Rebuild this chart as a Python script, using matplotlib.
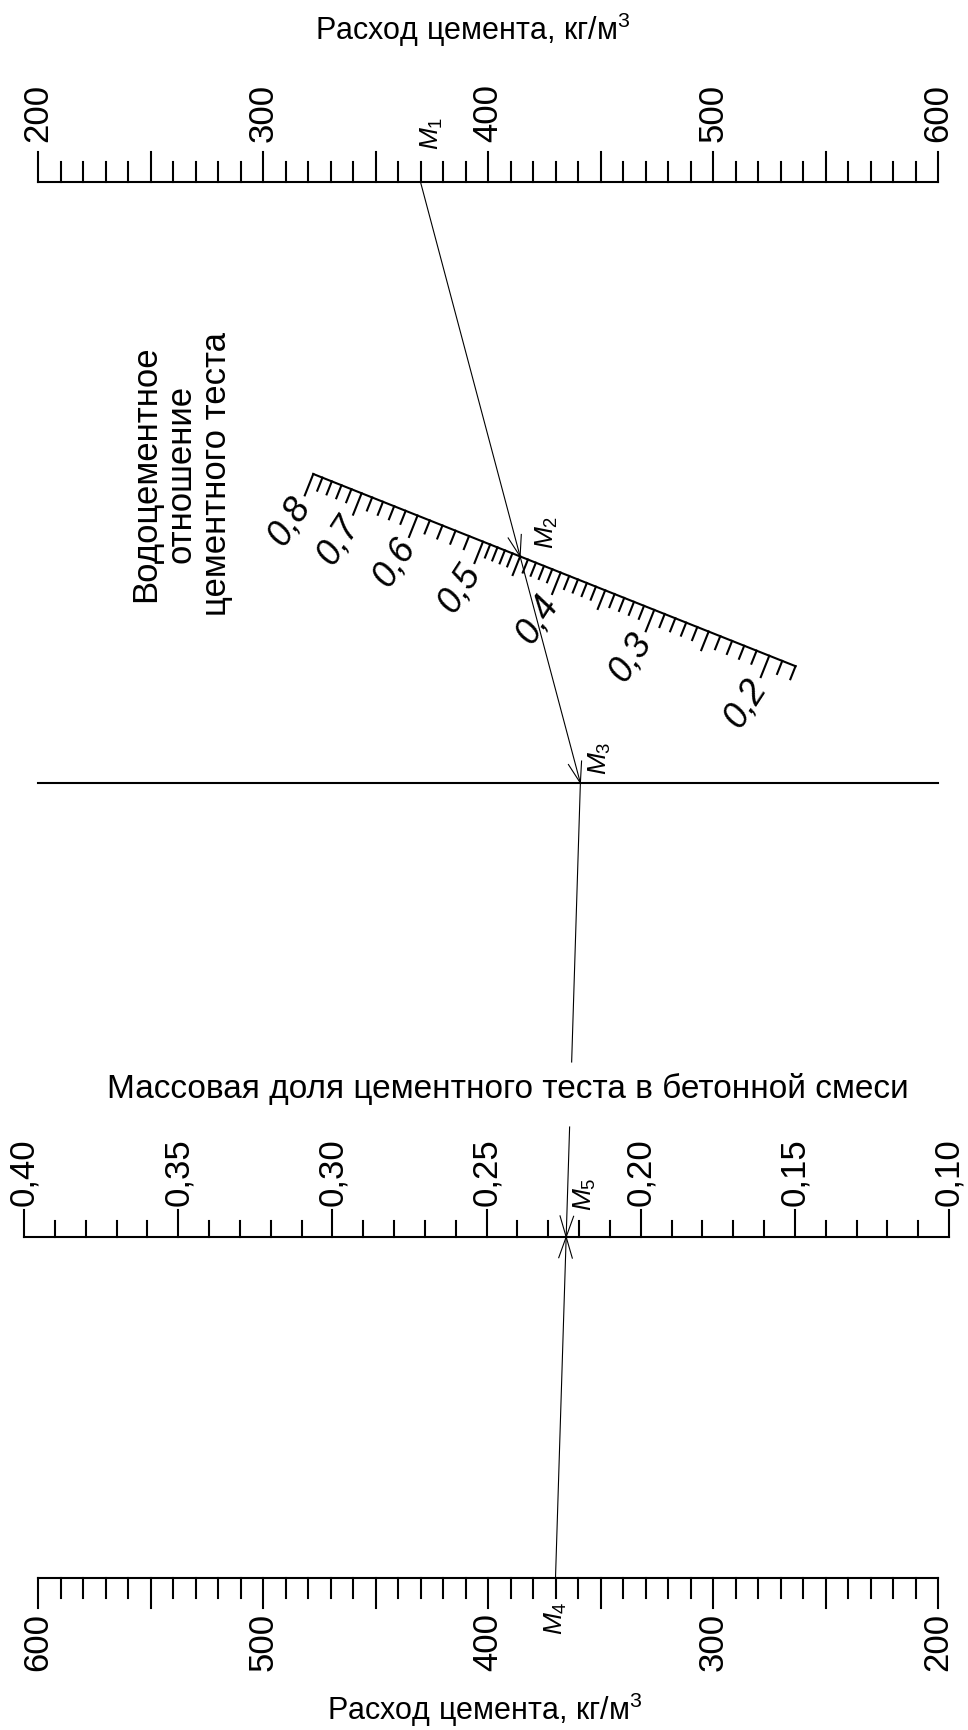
import numpy as np
import matplotlib.pyplot as plt

plt.rcParams['font.family'] = ['Liberation Sans', 'DejaVu Sans']
plt.rcParams['mathtext.fontset'] = 'custom'
plt.rcParams['mathtext.rm'] = 'Liberation Sans'
plt.rcParams['mathtext.it'] = 'Liberation Sans:italic'

# --- scale values -------------------------------------------------------
cement_labels = [200, 300, 400, 500, 600]          # kg/m3
cement_ticks = np.arange(200, 601, 10)

wc_labels = [0.8, 0.7, 0.6, 0.5, 0.4, 0.3, 0.2]    # water/cement of paste
wc_ticks_coarse = np.round(np.arange(0.50, 0.801, 0.02), 2)
wc_ticks_fine = np.round(np.arange(0.18, 0.50, 0.01), 2)

frac_labels = [0.40, 0.35, 0.30, 0.25, 0.20, 0.15, 0.10]   # paste mass fraction
frac_ticks = np.round(np.arange(0.10, 0.401, 0.01), 2)

# worked example (key)
m1_cement = 370
m2_wc = 0.45
m4_cement = 370

# --- layout (canvas in pixels, y downwards) ------------------------------
W, H = 968, 1731
TOP_Y, BOT_Y, MID_Y, FRAC_Y = 183, 1579, 784, 1238
C_LEFT, C_RIGHT = 38, 938
F_LEFT, F_RIGHT = 24, 949
WC_ORIGIN = np.array([313.3, 475.0])
WC_ANG = np.deg2rad(21.73)
WC_DIR = np.array([np.cos(WC_ANG), np.sin(WC_ANG)])
WC_NRM = np.array([-np.sin(WC_ANG), np.cos(WC_ANG)])
WC_C, WC_K = 0.6735, 1053.0

LW = 1.5
THIN = 0.8
NUM_FS = 25
WC_FS = 26
TITLE_FS = 22
M_FS = 19


def top_x(v):
    return C_LEFT + (v - 200) / 400 * (C_RIGHT - C_LEFT)


def bot_x(v):
    return C_LEFT + (600 - v) / 400 * (C_RIGHT - C_LEFT)


def frac_x(v):
    return F_LEFT + (0.40 - v) / 0.30 * (F_RIGHT - F_LEFT)


def wc_pos(w):
    s = WC_K * (1 / (w + WC_C) - 1 / (0.8 + WC_C))
    return WC_ORIGIN + s * WC_DIR


def fmt(v, nd):
    return f"{v:.{nd}f}".replace('.', ',')


def arrow_head(ax, tip, tail, length=22, half=18):
    d = np.asarray(tail, float) - np.asarray(tip, float)
    d /= np.hypot(*d)
    for a in (np.deg2rad(half), -np.deg2rad(half)):
        r = np.array([[np.cos(a), -np.sin(a)], [np.sin(a), np.cos(a)]])
        e = np.asarray(tip) + length * (r @ d)
        ax.plot([tip[0], e[0]], [tip[1], e[1]], color='black', lw=THIN)


def intersect_y(p, q, y):
    t = (y - p[1]) / (q[1] - p[1])
    return np.array([p[0] + t * (q[0] - p[0]), y])


fig = plt.figure(figsize=(W / 100, H / 100), dpi=100)
ax = fig.add_axes([0, 0, 1, 1])
ax.set_xlim(0, W)
ax.set_ylim(H, 0)
ax.axis('off')

# top cement scale (ticks up)
ax.plot([C_LEFT, C_RIGHT], [TOP_Y, TOP_Y], color='black', lw=LW)
for v in cement_ticks:
    L = 30 if v % 50 == 0 else 20
    ax.plot([top_x(v)] * 2, [TOP_Y, TOP_Y - L], color='black', lw=LW)
for v in cement_labels:
    ax.text(top_x(v), TOP_Y - 41, str(v), rotation=90, ha='center', va='bottom',
            fontsize=NUM_FS)
ax.text(473, 40, 'Расход цемента, кг/м$^3$', ha='center', va='baseline',
        fontsize=TITLE_FS)

# bottom cement scale (ticks down, reversed)
ax.plot([C_LEFT, C_RIGHT], [BOT_Y, BOT_Y], color='black', lw=LW)
for v in cement_ticks:
    L = 30 if v % 50 == 0 else 20
    ax.plot([bot_x(v)] * 2, [BOT_Y, BOT_Y + L], color='black', lw=LW)
for v in cement_labels:
    ax.text(bot_x(v), BOT_Y + 34, str(v), rotation=90, ha='center', va='top',
            fontsize=NUM_FS)
ax.text(485, 1720, 'Расход цемента, кг/м$^3$', ha='center', va='baseline',
        fontsize=TITLE_FS)

# paste mass fraction scale (ticks up)
ax.plot([F_LEFT, F_RIGHT], [FRAC_Y, FRAC_Y], color='black', lw=LW)
for v in frac_ticks:
    L = 27 if round(v * 100) % 5 == 0 else 16
    ax.plot([frac_x(v)] * 2, [FRAC_Y, FRAC_Y - L], color='black', lw=LW)
for v in frac_labels:
    ax.text(frac_x(v), FRAC_Y - 32, fmt(v, 2), rotation=90, ha='center',
            va='bottom', fontsize=NUM_FS)
ax.text(508, 1098, 'Массовая доля цементного теста в бетонной смеси',
        ha='center', va='baseline', fontsize=24)

# unscaled middle line
ax.plot([C_LEFT, C_RIGHT], [MID_Y, MID_Y], color='black', lw=LW)

# water/cement ratio scale (oblique, non-linear)
p0, p1 = wc_pos(0.8), wc_pos(min(wc_ticks_fine))
ax.plot([p0[0], p1[0]], [p0[1], p1[1]], color='black', lw=LW)
for w in list(wc_ticks_coarse) + list(wc_ticks_fine):
    k = round(w * 100)
    L = 23 if k % 10 == 0 else (20 if k % 5 == 0 else 14)
    a = wc_pos(w)
    b = a + L * WC_NRM
    ax.plot([a[0], b[0]], [a[1], b[1]], color='black', lw=LW)
for w in wc_labels:
    a = wc_pos(w) + 27 * WC_NRM
    ax.text(a[0], a[1], fmt(w, 1), rotation=57, rotation_mode='anchor',
            ha='right', va='center', fontsize=WC_FS, style='italic')
ax.text(181, 474, 'Водоцементное\nотношение\nцементного теста', rotation=90,
        ha='center', va='center', multialignment='center', fontsize=NUM_FS,
        linespacing=1.1)

# key: M1 -> M2 -> M3, then M3 & M4 -> M5
M1 = np.array([top_x(m1_cement), TOP_Y])
M2 = wc_pos(m2_wc)
M3 = intersect_y(M1, M2, MID_Y)
M4 = np.array([bot_x(m4_cement), BOT_Y])
M5 = intersect_y(M3, M4, FRAC_Y)

ax.plot([M1[0], M3[0]], [M1[1], M3[1]], color='black', lw=THIN)
arrow_head(ax, M2, M1)
arrow_head(ax, M3, M2)

# M3 -> M5, broken around the fraction title
g1 = intersect_y(M3, M4, 1063)
g2 = intersect_y(M3, M4, 1128)
ax.plot([M3[0], g1[0]], [M3[1], g1[1]], color='black', lw=THIN)
ax.plot([g2[0], M5[0]], [g2[1], M5[1]], color='black', lw=THIN)
ax.plot([M4[0], M5[0]], [M4[1], M5[1]], color='black', lw=THIN)
arrow_head(ax, M5, M3)
arrow_head(ax, M5, M4)

for name, pt, off in [('$M_1$', M1, (11, -50)), ('$M_2$', M2, (27, -25)),
                      ('$M_3$', M3, (20, -26)), ('$M_4$', M4, (0, 39)),
                      ('$M_5$', M5, (19, -44))]:
    ax.text(pt[0] + off[0], pt[1] + off[1], name, rotation=90, ha='center',
            va='center', fontsize=M_FS)

fig.savefig('out.png', dpi=100, facecolor='white')
